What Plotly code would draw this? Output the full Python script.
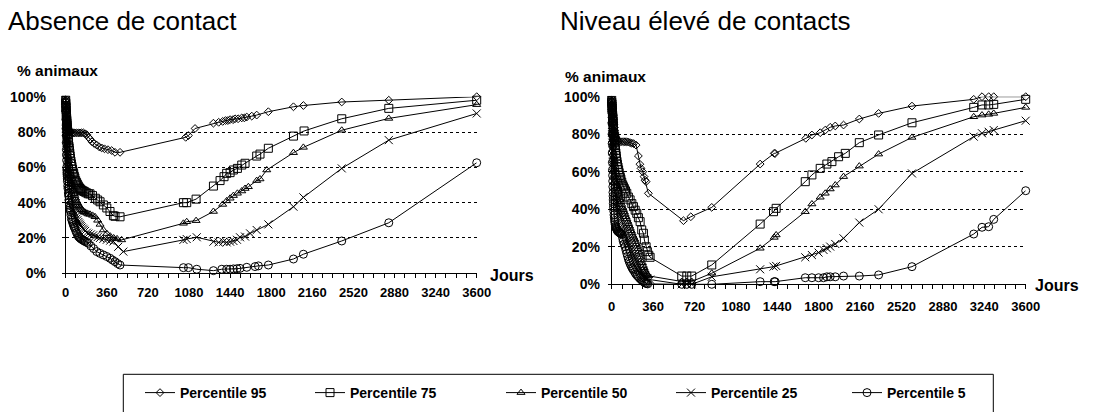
import plotly.graph_objects as go

# ---------------- data (days, % animals) ----------------
# Panel 1: Absence de contact
a_p95_x = [0,1,2,3,4,5,6,7,8,9,10,11,12,13,14,15,
           18,20,23,25,28,30,33,36,42,50,60,70,80,95,110,125,140,155,170,185,
           200,213,230,250,272,295,315,340,370,403,432,476,
           1051,1075,1133,1294,1340,1375,1400,1420,1440,1465,1483,1510,1542,1565,1586,1630,1673,1775,1995,2082,2418,2830,3600]
a_p95_y = [98,97,95.5,94,93,91.5,90,89,88,87,86,85.5,85,84,83.5,83,
           82.5,82,81.5,81,80.8,80.5,80.2,80,80,80,79.5,79.5,79.5,79.5,79.5,79.5,79.5,79.5,79,78.5,
           77,76,74.5,73.5,72.6,71.5,71,70.5,70,69.5,68.5,68.5,
           77,78,82,85,85.5,86,86.5,86.5,87,87,87.5,87.5,88,88,88.5,89,89.6,91.5,94.3,95,97,98,100]

a_p75_x = [0,1,2,3,4,5,6,7,8,9,10,11,12,13,14,15,
           18,20,23,25,28,30,33,36,39,42,46,50,55,60,65,70,75,80,87,95,
           102,110,117,125,132,140,150,160,170,185,200,213,235,260,280,301,330,360,388,418,432,476,
           1031,1060,1142,1294,1352,1387,1410,1440,1469,1504,1542,1571,1673,1702,1775,1995,2088,2418,2830,3600]
a_p75_y = [98,96.5,95,94,92.5,91,90,89,88,87,86,85,84,83,82,81,
           79,77,75.5,74,72,71,69.5,68,66.5,65,63.5,62,60.5,59,57.5,56.5,55,54,52.5,51.5,
           50.5,49.5,48.7,48,47.5,47,46.7,46.4,46,45.5,45,45,44,42.5,41.5,40.5,38.7,37,35,32.6,32.3,32,
           40,40,42,49.4,52.5,54.7,56.6,57,58.5,59.4,61.3,62.3,66.4,67.5,70.8,77.7,80.6,87.5,93.4,98]

a_p50_x = [0,1,2,3,4,5,6,7,8,9,10,11,12,13,14,15,
           18,20,23,25,28,30,33,36,39,42,46,50,55,60,65,70,75,80,87,95,
           102,110,117,125,132,140,150,160,170,185,200,213,235,257,280,301,330,360,390,420,450,490,
           1031,1060,1142,1294,1375,1410,1440,1469,1504,1542,1571,1600,1673,1702,1761,1995,2082,2418,2830,3600]
a_p50_y = [98,95,92.5,90,88,86,84,82.5,81,79,77.5,76,75,74,73,72,
           70,68,66,64,62,61,59.5,58,56.5,55,53.5,52,50.5,49,47.5,46.5,45,44,42.5,41,
           40,39,38.2,37.5,36.8,36,35.3,34.8,34.5,34,33.5,33.4,32.8,32,30,27.7,24.5,22.5,21,20,19.5,18.9,
           28.3,29.2,29.8,35,39,41,42.5,44,45.3,46.6,48,49,52.5,53.4,58.5,68.3,71.3,81,87.7,95.5]

a_p25_x = [0,1,2,3,4,5,6,7,8,9,10,11,12,13,14,15,
           18,20,23,25,28,30,33,36,39,42,46,50,55,60,65,70,75,80,87,95,
           102,110,117,125,132,140,150,160,170,185,200,220,240,260,280,300,330,360,390,418,460,505,
           1031,1060,1148,1294,1340,1381,1410,1440,1469,1500,1527,1571,1615,1673,1775,1995,2082,2418,2830,3600]
a_p25_y = [98,94,90,86,82,80,78,76,74,72,70,68.5,67,65.5,64,63,
           60,58,56,54,51.5,50,48.5,47,45.5,44,42.5,41,39.5,38,36.5,35.5,34.5,33.5,32,31,
           30,29,28.2,27.5,26.8,26,25.3,24.7,24,23,22.5,22,21.5,21,20.5,20,19.5,19,18.5,18,15,12.3,
           18.9,19.4,20.4,17.9,17.5,17.9,17.5,17.9,18.3,19,20.4,20.8,22.6,24.5,27.7,37.7,43,59.4,75.4,90.5]

a_p5_x = [0,1,2,3,4,5,6,7,8,9,10,11,12,13,14,15,
          18,20,23,25,28,30,33,36,39,42,46,50,55,60,65,70,75,80,87,95,
          102,110,117,125,132,140,150,160,170,185,199,220,245,272,300,330,360,388,410,432,455,476,
          1031,1075,1148,1294,1367,1410,1440,1469,1500,1527,1586,1659,1688,1775,1995,2082,2418,2830,3600]
a_p5_y = [98,92,87,82,78,74,70,67,64,60,58.5,57,56,55,53.5,52,
          49.5,48,45.5,44,41.5,40,38.5,37,36,35,33,31,30,29,28,27,26.2,25.5,24.2,23,
          22,21,20.5,20,19.6,19.2,18.8,18.4,18,17.5,17,15.5,14,12.3,11.3,10.4,9.5,8.5,7.5,6.6,5.5,4.7,
          3.2,3.2,2.3,1.5,2.3,2.3,2.3,2.5,2.6,2.8,3.4,3.8,4.2,4.7,8.1,10.8,18.3,28.6,62.6]

# Panel 2: Niveau élevé de contacts
b_p95_x = [0,1,2,3,4,5,6,7,8,9,10,11,12,13,14,15,
           18,20,23,25,28,30,33,36,39,42,46,50,58,73,90,105,116,130,145,160,
           175,190,212,232,245,255,270,281,290,299,319,
           624,688,870,1291,1413,1421,1688,1741,1813,1857,1900,1944,2016,2153,2321,2611,3148,3220,3278,3322,3600]
b_p95_y = [98,97.5,97,96,95,94,93.5,93,92,91.5,91,90.5,90,89,88.5,88,
           86,85,83.5,82,81,80,79,78.5,78,77.5,77,76.5,76,76,76,76,76,76,75.8,75.5,
           75.2,75,74.2,68.4,64,61.8,60,57.4,55.5,54.7,48.5,
           33.9,36,41,64.1,69.8,69.8,77.8,79.6,80.8,82.2,83.7,84.4,84.9,88.1,91.1,95,98.6,100,100,100,100]

b_p75_x = [0,1,2,3,4,5,6,7,8,9,10,11,12,13,14,15,
           18,20,23,25,28,30,33,36,39,42,46,50,55,60,65,70,75,80,87,95,
           102,110,120,131,145,160,175,189,204,218,232,247,261,276,284,299,310,322,334,
           609,653,696,870,1291,1407,1430,1683,1741,1813,1871,1915,1973,2031,2153,2321,2611,3148,3220,3278,3322,3600]
b_p75_y = [98,97,96,95,94,93,92,91,90,89,88,87,86,85,84,83,
           80.5,79,77.5,76,74,73,71.5,70,68.5,67,65.5,64,62.5,61,59.5,58,57,56,54.5,53,
           52,51,49.8,48.5,46.5,45,43,41.4,39.5,37.8,35.5,33.4,29,27.2,23.6,20,17.4,15.5,14.4,
           4.4,4.4,4.4,10.3,32.1,38.7,40.5,54.7,58.3,61.8,64.1,65.4,68,69.8,75.5,79.6,86.1,94.3,95.6,95.6,95.9,98.6]

b_p50_x = [0,1,2,3,4,5,6,7,8,9,10,11,12,13,14,15,
           18,20,23,25,28,30,33,36,39,42,46,50,55,60,65,70,75,80,87,95,
           102,110,117,125,132,140,147,155,162,170,177,185,192,200,207,215,222,230,237,245,
           252,260,267,275,282,290,297,305,312,320,
           609,653,696,870,1291,1413,1430,1683,1741,1813,1857,1900,1944,2016,2153,2321,2611,3148,3220,3278,3322,3600]
b_p50_y = [98,96,94,92,90,88,86,84,82.5,81,79.5,78,77,75.5,74,73,
           70,68,66,64,61.5,60,58.5,57,55.5,54,52.5,51,49.5,48,47,46,45,44,42.5,41,
           39.8,38.5,37.3,36,34.8,33.5,32.3,31,29.8,28.5,27.3,26,25,24,22.8,21.5,20.3,19,17.5,16,
           14.5,13,11.5,10,8.8,7.5,6.5,5.5,5,4.5,
           1.5,1.5,1.5,5.9,19.2,25,26.3,38.7,42.8,46.4,48.5,50.8,52.9,57.4,63,69.4,78.3,89.3,90.2,90.6,91.1,94.3]

b_p25_x = [0,1,2,3,4,5,6,7,8,9,10,11,12,13,14,15,
           18,20,23,25,28,30,33,36,39,42,46,50,55,60,65,70,75,80,87,95,
           102,110,117,125,132,140,147,155,162,170,177,185,192,200,207,215,222,230,237,245,
           252,260,267,275,282,290,300,310,334,
           609,653,696,870,1291,1407,1430,1683,1741,1799,1842,1871,1900,1944,2016,2153,2321,2611,3148,3220,3278,3322,3600]
b_p25_y = [98,94.5,91,87.5,84,81,78,75.5,73,71,69,67,65.5,64,63,62,
           59,56,54,52,49.5,48,46.5,45,44,43,42,41,40,39,38,37,36,35,33.5,32,
           30.5,29,27.5,26,24.8,23.5,22.3,21,19.8,18.5,17.3,16,15,14,13,12,11,10,9,8,
           7,6,5.3,4.5,4,3.5,3.2,3,2.5,
           0,0,0,4,8,9.4,9.8,14.4,15.6,16.9,18.3,19.2,20.1,21.5,24.5,32.9,40,59.1,78.7,80.5,81.3,82.2,87.2]

b_p5_x = [0,1,2,3,4,5,6,7,8,9,10,11,12,13,14,15,
          18,20,23,25,28,30,33,36,39,42,46,50,55,60,65,70,75,80,87,95,
          100,108,116,124,131,138,145,152,160,167,175,182,189,200,210,221,232,243,255,265,
          276,285,295,304,313,
          609,653,696,870,1291,1413,1421,1683,1741,1799,1842,1871,1900,1944,2016,2153,2321,2611,3148,3220,3278,3322,3600]
b_p5_y = [98,92,86,80,75,70,65,61,58,55,52,49,47,45,43,41,
          39,37,35.5,34,33,32,31,30.5,30,29.5,29,28.5,28.2,28,27.7,27.5,27.2,27,26.5,24.5,
          23,21.5,20,18.2,16.5,15,13.5,12.2,11,10,9,8.3,7.6,6.5,5.5,4.7,4,3.2,2.5,2,
          1.4,1,0.6,0.4,0.2,
          0,0,0,0,1.4,1.4,1.4,3.5,3.5,3.5,3.5,4,4,4,4.4,4.4,5,9.4,26.8,30.4,30.7,34.6,49.9]

series_names = ["Percentile 95", "Percentile 75", "Percentile 50", "Percentile 25", "Percentile 5"]
symbols = ["diamond-open", "square-open", "triangle-up-open", "x-thin", "circle-open"]
sizes = [6, 8, 7, 8, 8]
legend_widths = [125, 146, 125, 131, 80]

panel_a = [(a_p95_x, a_p95_y), (a_p75_x, a_p75_y), (a_p50_x, a_p50_y), (a_p25_x, a_p25_y), (a_p5_x, a_p5_y)]
panel_b = [(b_p95_x, b_p95_y), (b_p75_x, b_p75_y), (b_p50_x, b_p50_y), (b_p25_x, b_p25_y), (b_p5_x, b_p5_y)]

x_ticks = list(range(0, 3601, 360))
y_ticks = [0, 20, 40, 60, 80, 100]

# ---------------- figure ----------------
W, H = 1103, 412
FONT = "Arial, 'Liberation Sans', sans-serif"

def px(v):
    return v / W

def py(v):
    return 1 - v / H

fig = go.Figure()

for panel, (xa, ya) in ((panel_a, ("x", "y")), (panel_b, ("x2", "y2"))):
    for i, (xs, ys) in enumerate(panel):
        assert len(xs) == len(ys), (xa, series_names[i], len(xs), len(ys))
        fig.add_trace(go.Scatter(
            x=xs, y=ys, xaxis=xa, yaxis=ya,
            mode="lines+markers",
            name=series_names[i],
            showlegend=(xa == "x"),
            legendwidth=legend_widths[i],
            cliponaxis=False,
            line=dict(color="black", width=1),
            marker=dict(symbol=symbols[i], size=sizes[i], color="black",
                        line=dict(color="black", width=1)),
        ))

def xaxis_cfg(x0, x1, standoff):
    return dict(
        domain=[px(x0), px(x1)], range=[0, 3600], automargin=False,
        tickmode="array", tickvals=x_ticks, ticktext=[str(v) for v in x_ticks],
        ticks="outside", ticklen=4, tickwidth=1, tickcolor="black",
        minor=dict(dtick=90, tick0=0, ticks="outside", ticklen=4, tickcolor="black", tickwidth=1),
        showline=True, linecolor="black", linewidth=1,
        showgrid=False, zeroline=False,
        tickfont=dict(family=FONT, size=13, color="black", weight="bold"),
        ticklabelstandoff=standoff,
        fixedrange=True,
    )

def yaxis_cfg(y_top, y_bot, standoff, anchor):
    return dict(
        domain=[py(y_bot), py(y_top)], range=[0, 100], anchor=anchor, automargin=False,
        tickmode="array", tickvals=y_ticks, ticktext=[f"{v}%" for v in y_ticks],
        ticks="outside", ticklen=3, tickcolor="black",
        showline=True, linecolor="black", linewidth=1,
        showgrid=True, gridcolor="black", gridwidth=1, griddash="dot",
        zeroline=False,
        tickfont=dict(family=FONT, size=14, color="black", weight="bold"),
        ticklabelstandoff=standoff,
        fixedrange=True,
    )

fig.update_layout(
    width=W, height=H,
    margin=dict(l=0, r=0, t=0, b=0, autoexpand=False),
    paper_bgcolor="white", plot_bgcolor="white",
    font=dict(family=FONT, color="black"),
    xaxis=dict(**xaxis_cfg(65.7, 476.7, 3), anchor="y"),
    yaxis=yaxis_cfg(96.7, 273.3, 13, "x"),
    xaxis2=dict(**xaxis_cfg(611.7, 1025.7, 6), anchor="y2"),
    yaxis2=yaxis_cfg(96.7, 284.3, 5, "x2"),
    legend=dict(
        orientation="h", x=px(140), xanchor="left", y=py(377), yanchor="top",
        font=dict(family=FONT, size=14, color="black", weight="bold"),
        bgcolor="rgba(0,0,0,0)", borderwidth=0,
        entrywidthmode="pixels", traceorder="normal",
    ),
    showlegend=True,
)

# legend frame (extends past bottom edge as in reference)
fig.add_shape(type="rect", xref="paper", yref="paper",
              x0=px(123.3), x1=px(993.3), y0=py(430), y1=py(374.3),
              line=dict(color="black", width=1), fillcolor="rgba(0,0,0,0)", layer="below")

annos = [
    ("Absence de contact", 6, 21, 26, "normal"),
    ("Niveau élevé de contacts", 558, 21, 26, "normal"),
    ("% animaux", 15, 70, 15.5, "bold"),
    ("% animaux", 563, 76.5, 15.5, "bold"),
    ("Jours", 488, 275, 16, "bold"),
    ("Jours", 1033, 285.7, 16, "bold"),
]
for text, x, y, size, weight in annos:
    fig.add_annotation(text=text, xref="paper", yref="paper", x=px(x), y=py(y),
                       xanchor="left", yanchor="middle", showarrow=False,
                       font=dict(family=FONT, size=size, color="black", weight=weight))

fig.write_html("out.html", config={"displayModeBar": False},
               post_script="document.body.style.margin='0';document.body.style.overflow='hidden';")
